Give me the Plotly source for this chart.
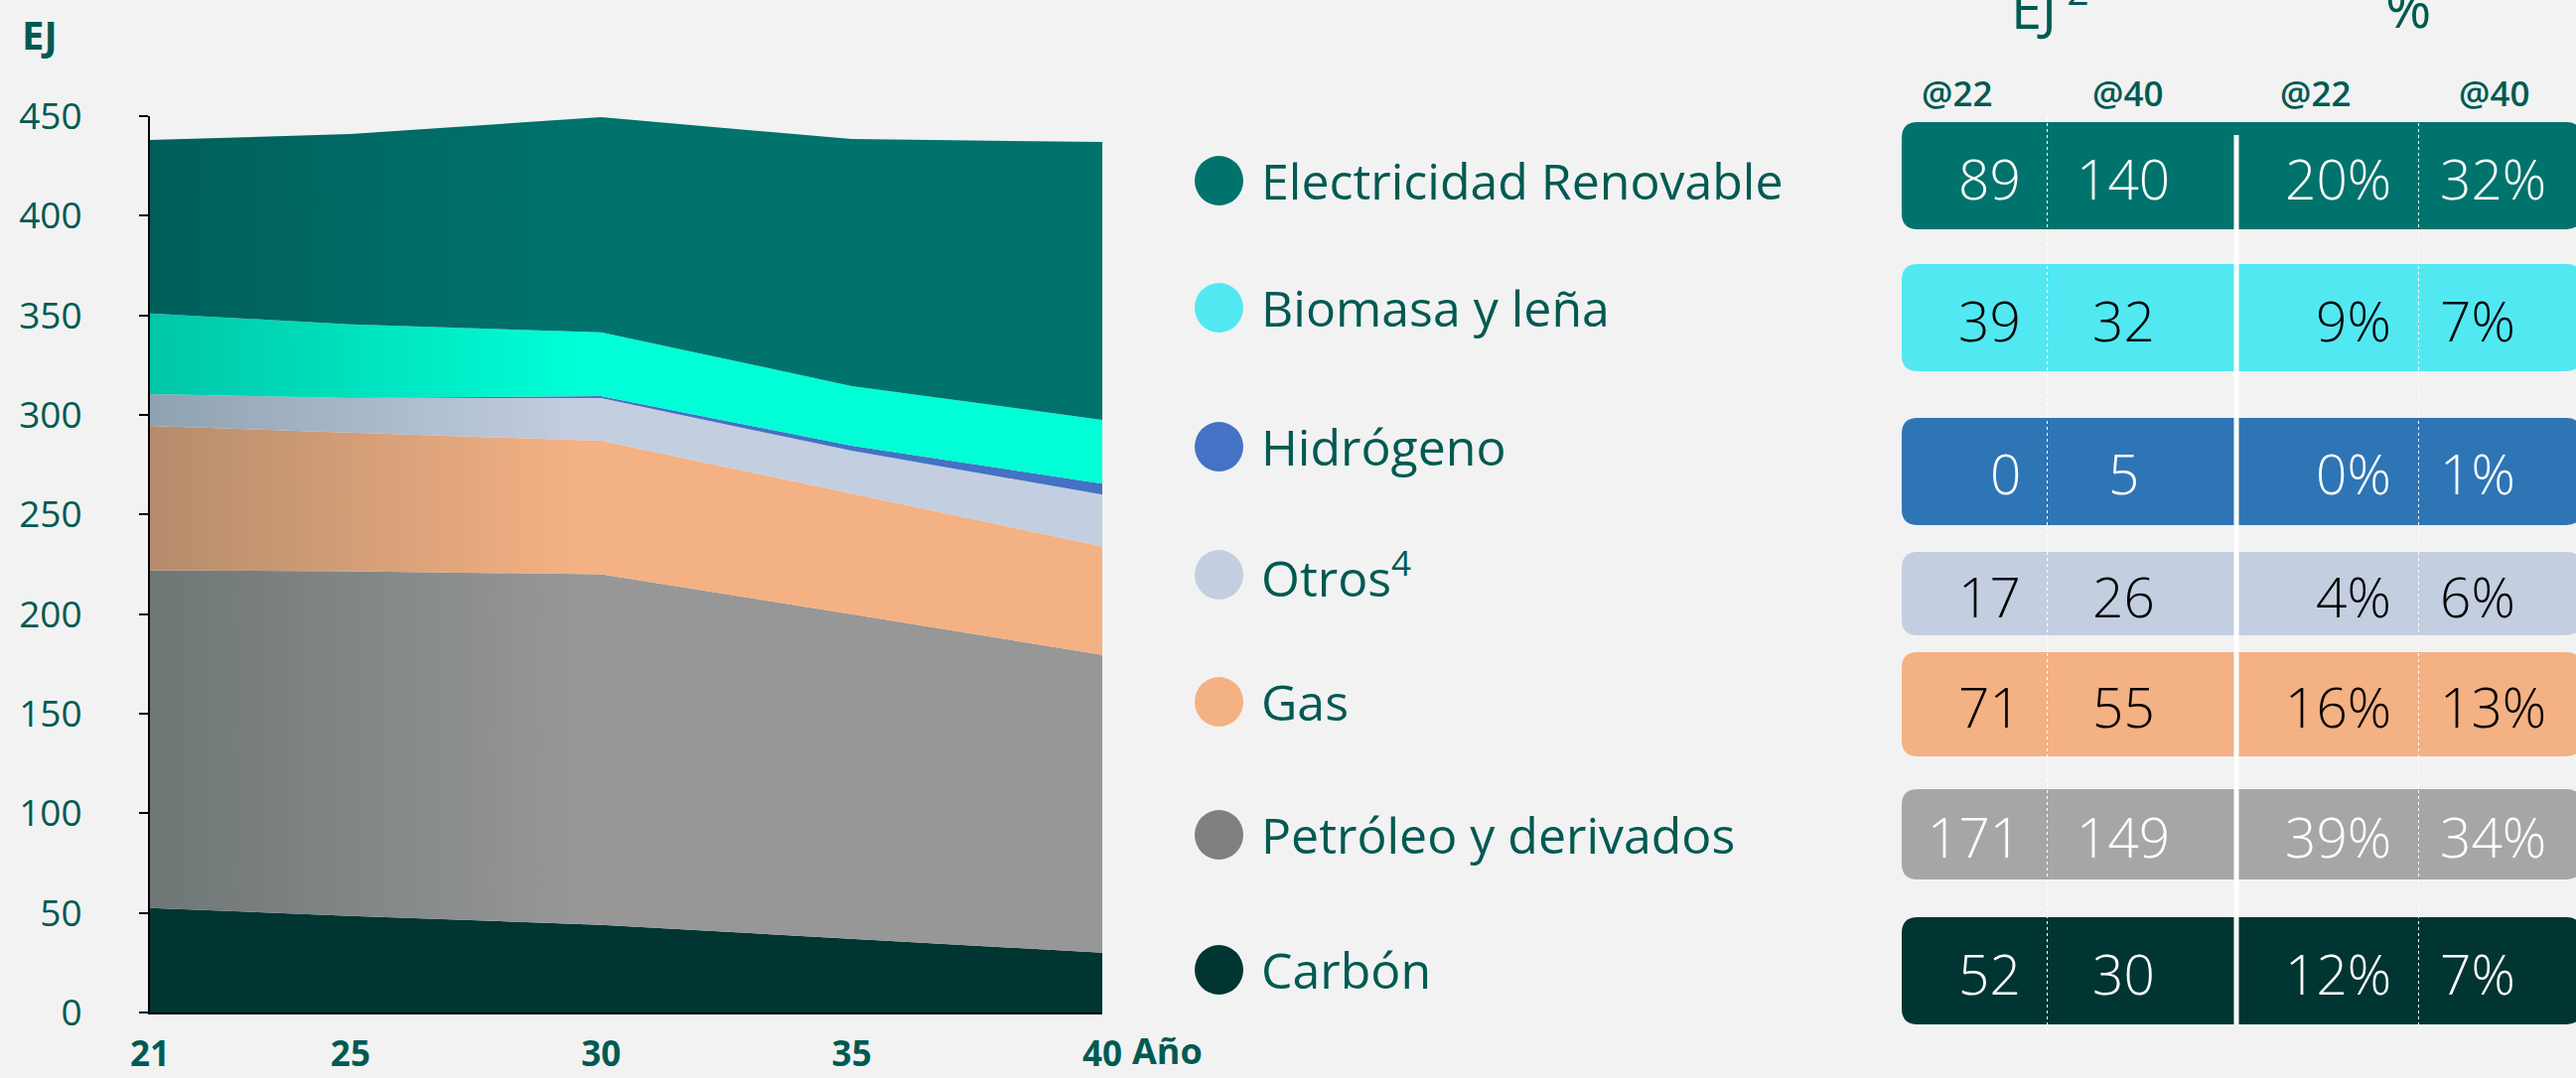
import plotly.graph_objects as go

# ---------------- data ----------------
years = [2021, 2025, 2030, 2035, 2040]
carbon = [52.5, 48.5, 44, 37, 30]
petroleo = [169.5, 173, 176, 163, 149.5]
gas = [72.5, 69.5, 67, 60.5, 54.5]
otros = [16, 17.5, 21.5, 21.5, 26]
hidrogeno = [0, 0, 1, 2.5, 5.5]
biomasa = [40.5, 37, 32, 30, 32]
renovable = [87, 95.5, 108, 124, 139.5]

x_tickvals = [2021, 2025, 2030, 2035, 2040]
x_ticktext = ["21", "25", "30", "35", "40"]

legend_labels = ["Electricidad Renovable", "Biomasa y leña", "Hidrógeno", "Otros<sup>4</sup>",
                 "Gas", "Petróleo y derivados", "Carbón"]
ej22 = [89, 39, 0, 17, 71, 171, 52]
ej40 = [140, 32, 5, 26, 55, 149, 30]
pct22 = [20, 9, 0, 4, 16, 39, 12]
pct40 = [32, 7, 1, 6, 13, 34, 7]

# ---------------- styles ----------------
TEAL_TXT = "#005A52"
BG = "#F2F2F2"
FONT = "Open Sans"
W, H = 2594, 1086
ML, MR, MT, MB = 151, 0, 117, 66
PW = W - ML - MR
PH = H - MT - MB


def px(xp):
    return (xp - ML) / PW


def py(yp):
    return (H - MB - yp) / PH


series = [
    ("Carbón", carbon, "#003532", "#003532"),
    ("Petróleo y derivados", petroleo, "#6E7676", "#979797"),
    ("Gas", gas, "#B58C6C", "#F4B183"),
    ("Otros", otros, "#8FA2B2", "#C3CEE0"),
    ("Hidrógeno", hidrogeno, "#4472C4", "#4472C4"),
    ("Biomasa y leña", biomasa, "#00C6A8", "#00FFD6"),
    ("Electricidad Renovable", renovable, "#005F5A", "#00736C"),
]

fig = go.Figure()
for name, vals, c0, c1 in series:
    fig.add_trace(go.Scatter(
        x=years, y=vals, name=name, mode="lines", stackgroup="one",
        line=dict(width=0),
        fillgradient=dict(type="horizontal", start=2021, stop=2029.5,
                          colorscale=[[0, c0], [1, c1]]),
        hoverinfo="skip", showlegend=False,
    ))

shapes = []
annotations = []

# ---- custom legend ----
legend_colors = ["#00736C", "#52E8F2", "#4472C4", "#C3CEE0", "#F4B183", "#808080", "#003532"]
legend_y = [182, 310, 450, 579, 707, 841, 977]
for lab, col, yy in zip(legend_labels, legend_colors, legend_y):
    shapes.append(dict(type="circle", xref="paper", yref="paper",
                       x0=px(1203), x1=px(1252), y0=py(yy + 25), y1=py(yy - 25),
                       fillcolor=col, line=dict(width=0)))
    annotations.append(dict(xref="paper", yref="paper", x=px(1268), y=py(yy),
                            text=lab, showarrow=False, xanchor="left", yanchor="middle",
                            font=dict(family=FONT, size=50, color=TEAL_TXT)))

# ---- table ----
row_colors = ["#00736C", "#52E8F2", "#2E75B6", "#C3CEE0", "#F4B183", "#A6A6A6", "#003532"]
row_txt = ["white", "black", "white", "black", "black", "white", "white"]
rows_y = [(123, 231), (266, 374), (421, 529), (556, 640), (657, 762), (795, 886), (924, 1032)]
XL, XR, R = 1915, 2600, 16


def rrect(x0, x1, y0, y1, r):
    a0, a1 = px(x0), px(x1)
    b0, b1 = py(y1), py(y0)  # bottom, top in paper
    rx, ry = r / PW, r / PH
    return (f"M {a0+rx},{b1} L {a1-rx},{b1} Q {a1},{b1} {a1},{b1-ry} "
            f"L {a1},{b0+ry} Q {a1},{b0} {a1-rx},{b0} L {a0+rx},{b0} "
            f"Q {a0},{b0} {a0},{b0+ry} L {a0},{b1-ry} Q {a0},{b1} {a0+rx},{b1} Z")


for i, (y0, y1) in enumerate(rows_y):
    shapes.append(dict(type="path", xref="paper", yref="paper",
                       path=rrect(XL, XR, y0, y1, R),
                       fillcolor=row_colors[i], line=dict(width=0), layer="above"))
    yc = py((y0 + y1) / 2 + 2)
    f = dict(family=FONT, size=55, color=row_txt[i], weight=300)
    annotations += [
        dict(xref="paper", yref="paper", x=px(2037), y=yc, text=str(ej22[i]),
             xanchor="right", yanchor="middle", showarrow=False, font=f),
        dict(xref="paper", yref="paper", x=px(2138), y=yc, text=str(ej40[i]),
             xanchor="center", yanchor="middle", showarrow=False, font=f),
        dict(xref="paper", yref="paper", x=px(2410), y=yc, text=f"{pct22[i]}%",
             xanchor="right", yanchor="middle", showarrow=False, font=f),
        dict(xref="paper", yref="paper", x=px(2455), y=yc, text=f"{pct40[i]}%",
             xanchor="left", yanchor="middle", showarrow=False, font=f),
    ]

# dotted dividers and solid separator
for xd in (2061.5, 2435.5):
    shapes.append(dict(type="line", xref="paper", yref="paper", x0=px(xd), x1=px(xd),
                       y0=py(118), y1=py(1042), line=dict(color="white", width=1, dash="dot"),
                       layer="above"))
shapes.append(dict(type="line", xref="paper", yref="paper", x0=px(2252), x1=px(2252),
                   y0=py(136), y1=py(1032), line=dict(color="white", width=5), layer="above"))

# headers
sub_font = dict(family=FONT, size=35, color=TEAL_TXT, weight=600)
for xc, t in [(1970, "@22"), (2142, "@40"), (2331, "@22"), (2511, "@40")]:
    annotations.append(dict(xref="paper", yref="paper", x=px(xc), y=py(93), text=t,
                            xanchor="center", yanchor="middle", showarrow=False, font=sub_font))
hdr_font = dict(family=FONT, size=56, color=TEAL_TXT, weight=400)
annotations.append(dict(xref="paper", yref="paper", x=px(2064), y=py(4), text="EJ<sup> 2</sup>",
                        xanchor="center", yanchor="middle", showarrow=False, font=hdr_font))
annotations.append(dict(xref="paper", yref="paper", x=px(2425), y=py(6), text="%",
                        xanchor="center", yanchor="middle", showarrow=False, font=hdr_font))

# axis titles
annotations.append(dict(xref="paper", yref="paper", x=px(20), y=py(34), text="<b>EJ</b>",
                        xanchor="left", yanchor="middle", showarrow=False,
                        font=dict(family=FONT, size=40, color=TEAL_TXT)))
annotations.append(dict(xref="paper", yref="paper", x=px(1138), y=py(1058), text="<b>Año</b>",
                        xanchor="left", yanchor="middle", showarrow=False,
                        font=dict(family=FONT, size=36, color=TEAL_TXT)))

fig.update_layout(
    width=W, height=H, autosize=False,
    margin=dict(l=ML, r=MR, t=MT, b=MB, autoexpand=False),
    paper_bgcolor=BG, plot_bgcolor=BG,
    showlegend=False,
    shapes=shapes, annotations=annotations,
    xaxis=dict(domain=[0, 959 / PW], range=[2021, 2040], showgrid=False, zeroline=False,
               showline=True, linecolor="black", linewidth=2, ticks="",
               tickvals=x_tickvals, ticktext=x_ticktext, ticklabelstandoff=10,
               tickfont=dict(family=FONT, size=35, color=TEAL_TXT, weight="bold")),
    yaxis=dict(range=[0, 450], dtick=50, showgrid=False, zeroline=False,
               showline=True, linecolor="black", linewidth=2,
               ticks="outside", ticklen=9, tickwidth=2, tickcolor="black",
               ticklabelstandoff=50,
               tickfont=dict(family=FONT, size=37, color=TEAL_TXT)),
)

fig.write_html(
    "out.html",
    config=dict(responsive=False, displayModeBar=False),
    post_script="document.body.style.margin='0px';document.body.style.overflow='hidden';",
)
